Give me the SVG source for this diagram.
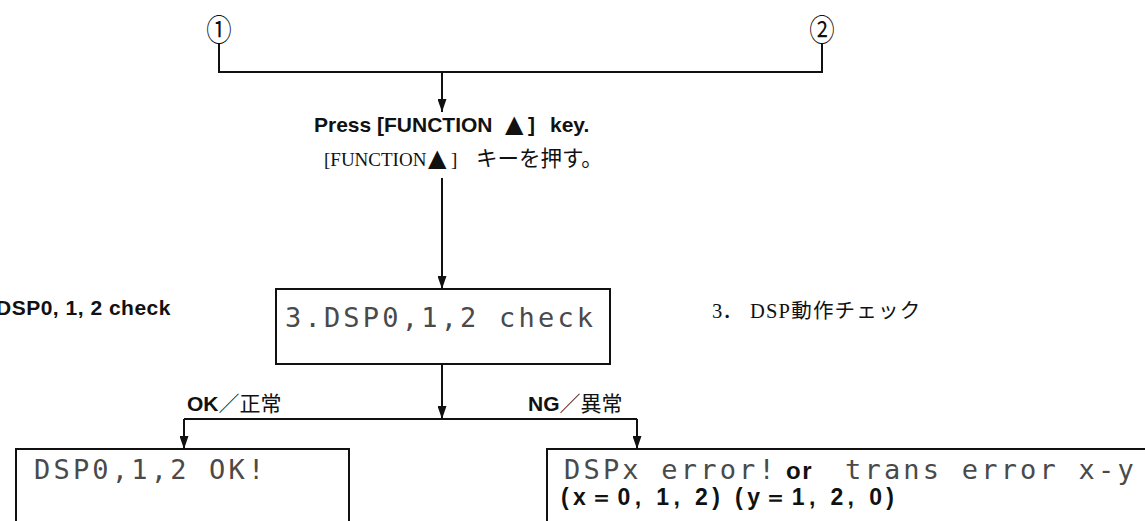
<svg xmlns="http://www.w3.org/2000/svg" width="1145" height="521" viewBox="0 0 1145 521">
<defs>
<marker id="arr" viewBox="0 0 13 9" refX="13" refY="4.5" markerWidth="13" markerHeight="9" orient="auto" markerUnits="userSpaceOnUse">
<path d="M0,0 L13,4.5 L0,9 z" fill="#111"/>
</marker>
<style>
.ln{fill:none;stroke:#111;stroke-width:2}
.box{fill:#fff;stroke:#111;stroke-width:2}
.lcd{font-family:"DejaVu Sans Mono","Liberation Mono",monospace;font-size:27px;letter-spacing:3.2px;fill:#4a4a4a}
.en{font-family:"Liberation Sans",Arial,sans-serif;font-weight:bold;fill:#111}
.jp{font-family:"Liberation Serif","Noto Sans CJK JP",serif;font-weight:normal;fill:#111}
.cir{font-family:"Noto Sans CJK JP",sans-serif;font-size:31px;fill:#111}
.tri{font-family:"DejaVu Sans",sans-serif;font-weight:normal}
</style>
</defs>
<rect width="1145" height="521" fill="#fff"/>
<g id="connectors">
<path class="ln" d="M219,43 V72 H822 V43"/>
<path class="ln" d="M442,72 V112" marker-end="url(#arr)"/>
<path class="ln" d="M442,178 V289" marker-end="url(#arr)"/>
<path class="ln" d="M442,364 V419" marker-end="url(#arr)"/>
<path class="ln" d="M184,419 H637"/>
<path class="ln" d="M184,419 V449" marker-end="url(#arr)"/>
<path class="ln" d="M637,419 V449" marker-end="url(#arr)"/>
<text class="en" x="187" y="411" font-size="21">OK<tspan class="jp" font-size="21">／正常</tspan></text>
<text class="en" x="528" y="411" font-size="21">NG<tspan class="jp" font-size="21">／異常</tspan></text>
</g>
<g id="n-start1"><text class="cir" transform="translate(219,41) scale(0.82,1)" text-anchor="middle">①</text></g>
<g id="n-start2"><text class="cir" transform="translate(822,41) scale(0.82,1)" text-anchor="middle">②</text></g>
<g id="n-press">
<text class="en" y="132" font-size="21"><tspan x="314">Press [FUNCTION</tspan><tspan class="tri" x="505" font-size="24">▲</tspan><tspan x="528">]</tspan><tspan x="550">key.</tspan></text>
<text class="jp" y="166" font-size="19"><tspan x="324">[FUNCTION</tspan><tspan class="tri" x="428" font-size="24">▲</tspan><tspan x="451">]</tspan><tspan x="476" font-size="21.5">キーを押す。</tspan></text>
</g>
<g id="n-check">
<rect class="box" x="276" y="289" width="334" height="75"/>
<text class="lcd" x="285" y="327">3.DSP0,1,2 check</text>
</g>
<g id="n-label-left"><text class="en" x="-4" y="315" font-size="21" letter-spacing="0.5">DSP0, 1, 2 check</text></g>
<g id="n-label-right"><text class="jp" y="318" font-size="20.5"><tspan x="712">3．</tspan><tspan x="750" letter-spacing="1.2">DSP動作チェック</tspan></text></g>
<g id="n-ok">
<rect class="box" x="16" y="449" width="333" height="90"/>
<text class="lcd" x="34" y="479">DSP0,1,2 OK!</text>
</g>
<g id="n-ng">
<rect class="box" x="547" y="449" width="620" height="90"/>
<text class="lcd" x="564" y="479">DSPx error!</text>
<text class="en" x="786" y="479" font-size="24" letter-spacing="1.5">or</text>
<text class="lcd" x="845" y="479">trans error x-y</text>
<text class="en" x="561" y="505" font-size="23" textLength="333" lengthAdjust="spacing">(x＝0, 1, 2) (y＝1, 2, 0)</text>
</g>
</svg>
